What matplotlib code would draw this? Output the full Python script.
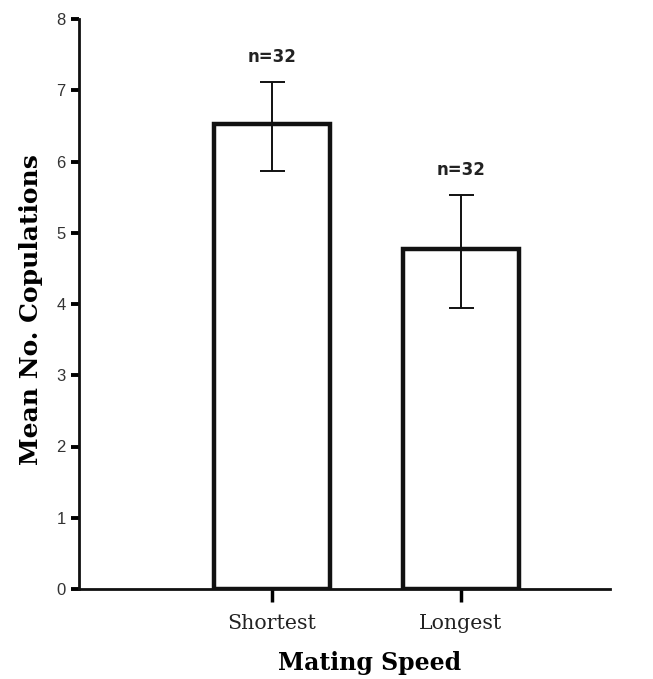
import matplotlib
matplotlib.use("Agg")
import matplotlib.pyplot as plt

categories = ["Shortest", "Longest"]
means = [6.53, 4.77]
err_low = [5.87, 3.95]
err_high = [7.11, 5.53]
n_labels = ["n=32", "n=32"]
y_ticks = [0, 1, 2, 3, 4, 5, 6, 7, 8]

W, H = 653, 679
fig = plt.figure(figsize=(W/100, H/100), dpi=100)
ax = fig.add_axes([79/W, 1 - 589/H, (610-79)/W, (589-19)/H])

x = list(range(len(categories)))
yerr = [[m - lo for m, lo in zip(means, err_low)], [hi - m for m, hi in zip(means, err_high)]]
ax.bar(x, means, width=0.614, color="white", edgecolor="#111111", linewidth=3.2, zorder=2)
ax.errorbar(x, means, yerr=yerr, fmt="none", ecolor="#111111", elinewidth=1.4,
            capsize=9, capthick=1.4, zorder=3)
for xi, hi, lab in zip(x, err_high, n_labels):
    ax.text(xi, hi + 0.35, lab, ha="center", va="center", fontsize=12,
            fontweight="bold", family="DejaVu Sans", color="#222222")

ax.set_xlim(-1.02, 1.79)
ax.set_ylim(0, 8)
ax.set_yticks(y_ticks)
ax.set_yticklabels([str(t) for t in y_ticks], family="Liberation Sans", fontsize=12, color="#333333")
ax.set_xticks(x)
ax.set_xticklabels(categories, family="DejaVu Serif", fontsize=14.8, color="#222222")
ax.tick_params(axis="y", direction="out", length=5.5, width=2.8, pad=4)
ax.tick_params(axis="x", direction="out", length=9, width=2.5, pad=9)
for s in ["top", "right"]:
    ax.spines[s].set_visible(False)
for s in ["left", "bottom"]:
    ax.spines[s].set_linewidth(2)
    ax.spines[s].set_color("#111111")

ax.set_ylabel("Mean No. Copulations", family="DejaVu Serif", fontweight="bold", fontsize=18,
              va="center")
ax.yaxis.set_label_coords((31-79)/531, 0.5 - (310-304)/570)
ax.set_xlabel("Mating Speed", family="DejaVu Serif", fontweight="bold", fontsize=17, va="center")
ax.xaxis.set_label_coords((370-79)/531, -(663-589)/570)

fig.savefig("out.png", dpi=100)
